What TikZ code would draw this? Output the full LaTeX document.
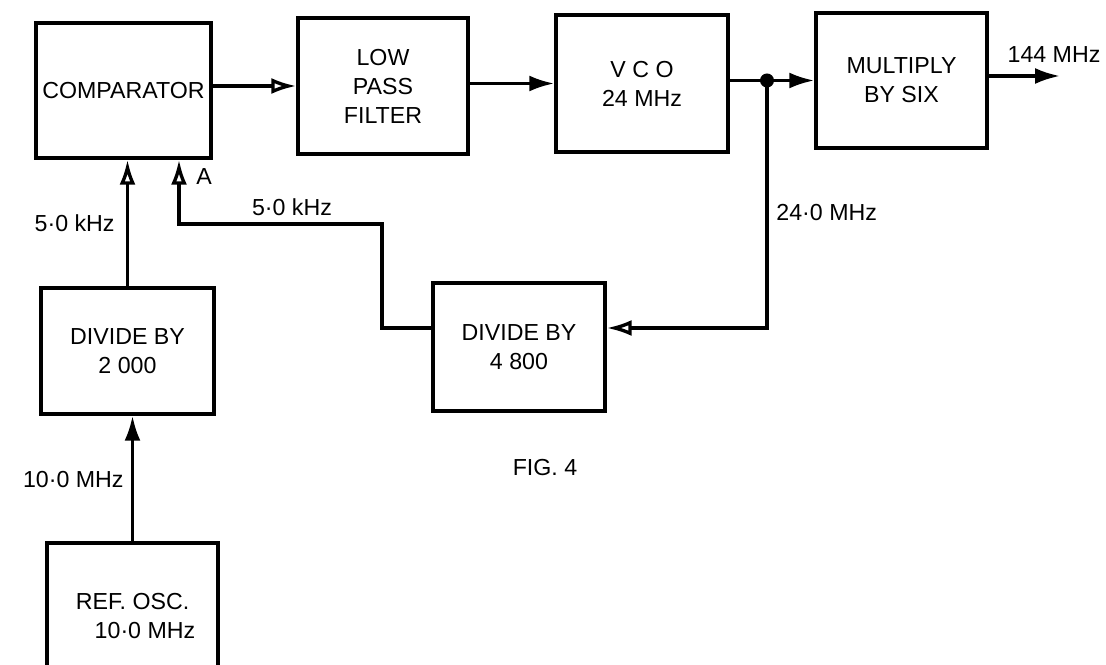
\documentclass[tikz,border=0pt]{standalone}
\usepackage{fontspec}
\setmainfont{Liberation Sans}
\usepackage{tikz}
\usetikzlibrary{arrows.meta,positioning}

\begin{document}
\begin{tikzpicture}[x=0.02cm,y=-0.02cm,line width=1.9pt,
  blk/.style={draw,line width=2pt,align=center,font=\fontsize{13.2}{16.5}\selectfont,inner sep=2pt},
  lbl/.style={font=\fontsize{13.2}{16}\selectfont,inner sep=1pt},
  fil/.style={-{Latex[length=5mm,width=3.2mm]}},
  hol/.style={-{Latex[open,length=5mm,width=3.2mm]}}]
\useasboundingbox (0,0) rectangle (1106,665);
% top row
\node[blk,minimum width=3.5cm,minimum height=2.7cm] (comp) at (123.5,90.5) {COMPARATOR};
\node[blk,minimum width=3.4cm,minimum height=2.72cm] (lpf) at (383,86) {LOW\\PASS\\FILTER};
\node[blk,minimum width=3.44cm,minimum height=2.74cm] (vco) at (642,83.5) {V C O\\24 MHz};
\node[blk,minimum width=3.42cm,minimum height=2.7cm] (mult) at (901.5,80.5) {MULTIPLY\\BY SIX};
% dividers and reference
\node[blk,minimum width=3.46cm,minimum height=2.52cm] (div2k) at (127.5,351) {DIVIDE BY\\2 000};
\node[blk,minimum width=3.44cm,minimum height=2.56cm] (div48) at (519,347) {DIVIDE BY\\4 800};
\node[blk,minimum width=3.42cm,minimum height=2.94cm] (refosc) at (132.5,616.5) {REF. OSC.\\\hspace*{0.5cm}10·0 MHz};
\coordinate (tap) at (767,80.5);
\coordinate (fb) at (767,328);
\coordinate (fbB) at (382,224);
\coordinate (fbA) at (179,224);
\coordinate (out) at (1060,76);
% connectors
\draw[hol] (comp.east |- lpf.west) -- (lpf.west);
\draw[fil] (lpf.east |- vco.west) -- (vco.west);
\draw[fil] (vco.east |- mult.west) -- (mult.west);
\draw[fil] (mult.east |- out) -- (out);
\fill (tap) circle (7);
\draw[hol] (tap) -- (fb) -- (div48.east |- fb);
\draw[hol] (div48.west |- fb) -| (fbB) -- (fbA) -- (fbA |- comp.south);
\draw[hol] (div2k.north) -- (div2k.north |- comp.south);
\draw[fil] (refosc.north) -- (refosc.north |- div2k.south);
% labels
\node[lbl,anchor=east] (l5a) at (118,223) {5·0 kHz};
\node[lbl] (l5b) at (292,207) {5·0 kHz};
\node[lbl] (lA) at (204,177) {A};
\node[lbl,anchor=west] (l24) at (773,213) {24·0 MHz};
\node[lbl] (l144) at (1054,55) {144 MHz};
\node[lbl,anchor=east] (l10) at (127,480) {10·0 MHz};
\node[lbl] (fig) at (545,468) {FIG. 4};
\end{tikzpicture}
\end{document}
